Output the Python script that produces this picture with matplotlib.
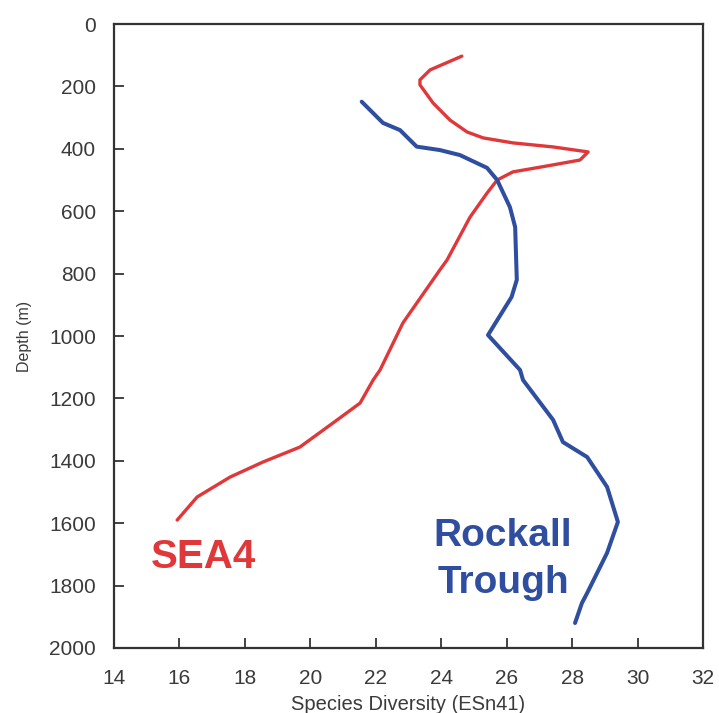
import matplotlib
matplotlib.use("Agg")
import matplotlib.pyplot as plt

plt.rcParams['font.family'] = ['Liberation Sans', 'DejaVu Sans']

# SEA4 (red)
sea4_div = [24.63, 23.66, 23.35, 23.35, 23.75, 24.27, 24.79, 25.28, 26.19, 27.42, 28.49,
            28.24, 27.23, 26.19, 25.71, 25.40, 24.88, 24.18, 23.96, 22.83, 22.13, 21.92,
            21.52, 20.82, 19.68, 18.55, 17.55, 16.54, 15.93]
sea4_depth = [103, 147, 179, 195, 253, 308, 346, 365, 381, 394, 410,
              436, 455, 474, 500, 542, 619, 756, 788, 958, 1109, 1141,
              1215, 1269, 1356, 1404, 1452, 1516, 1590]

# Rockall Trough (blue)
rock_div = [21.57, 22.22, 22.74, 23.25, 23.96, 24.57, 25.40, 25.71, 26.10, 26.26, 26.31,
            26.15, 25.43, 26.41, 26.50, 27.42, 27.72, 28.46, 29.07, 29.40, 29.07, 28.46,
            28.30, 28.09]
rock_depth = [249, 317, 340, 393, 404, 420, 461, 500, 587, 651, 820,
              875, 997, 1109, 1141, 1269, 1340, 1388, 1484, 1596, 1695, 1824,
              1856, 1920]

x_ticks = [14, 16, 18, 20, 22, 24, 26, 28, 30, 32]
y_ticks = [0, 200, 400, 600, 800, 1000, 1200, 1400, 1600, 1800, 2000]

red = "#e0383a"
blue = "#2f4ea0"

fig = plt.figure(figsize=(7.19, 7.13), dpi=100)
ax = fig.add_axes([0.1586, 0.0912, 0.8191, 0.8751])

ax.plot(sea4_div, sea4_depth, color=red, lw=2.4, solid_capstyle='round')
ax.plot(rock_div, rock_depth, color=blue, lw=2.9, solid_capstyle='round')

ax.text(16.72, 1708, "SEA4", color=red, fontsize=29, fontweight='bold',
        ha='center', va='center')
ax.text(25.89, 1641, "Rockall", color=blue, fontsize=28, fontweight='bold',
        ha='center', va='center')
ax.text(25.89, 1792, "Trough", color=blue, fontsize=28, fontweight='bold',
        ha='center', va='center')

ax.set_xlim(14, 32)
ax.set_ylim(2000, 0)
ax.set_xticks(x_ticks)
ax.set_yticks(y_ticks)
ax.tick_params(direction='in', length=7, width=1.2, color='#222222',
               labelsize=15, labelcolor='#3a3a3a', pad=13)
ax.tick_params(axis='x', pad=15)

for s in ax.spines.values():
    s.set_linewidth(1.6)
    s.set_color('#333333')

ax.set_xlabel("Species Diversity (ESn41)", fontsize=14.5, color='#3a3a3a', labelpad=5)
ax.set_ylabel("Depth (m)", fontsize=11.5, color='#3a3a3a', labelpad=12)

fig.savefig("out.png", dpi=100)
